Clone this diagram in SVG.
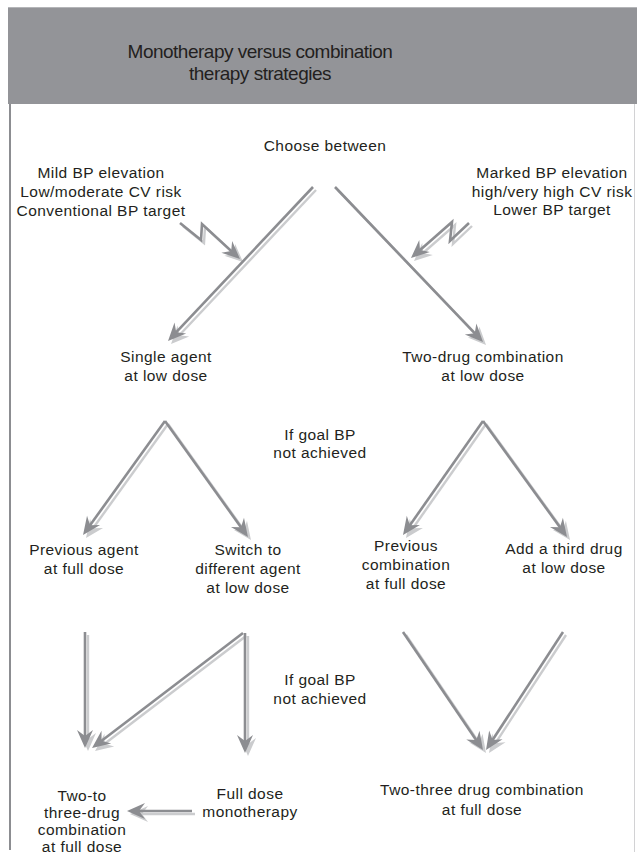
<svg xmlns="http://www.w3.org/2000/svg" width="637" height="858" viewBox="0 0 637 858">
<defs>
<style>
.t{font-family:"Liberation Sans",Arial,sans-serif;font-size:15.5px;fill:#231f20;text-anchor:middle;letter-spacing:0.45px}
.title{font-family:"Liberation Sans",Arial,sans-serif;font-size:19px;fill:#231f20;text-anchor:middle;letter-spacing:-0.5px}
.m{fill:none;stroke:#8c8d91;stroke-width:2.6;marker-end:url(#hd)}
.s{fill:none;stroke:#cbccce;stroke-width:2.4;marker-end:url(#hs)}
</style>
<marker id="hd" markerUnits="userSpaceOnUse" markerWidth="24" markerHeight="24" viewBox="-12 -12 24 24" refX="0" refY="0" orient="auto">
<path d="M8,0 L-10,-8 L-4,0 L-10,8 Z" fill="#8c8d91"/>
</marker>
<marker id="hs" markerUnits="userSpaceOnUse" markerWidth="24" markerHeight="24" viewBox="-12 -12 24 24" refX="0" refY="0" orient="auto">
<path d="M8,0 L-10,-8 L-4,0 L-10,8 Z" fill="#cbccce"/>
</marker>
</defs>
<rect width="637" height="858" fill="#ffffff"/>
<g id="frame">
<rect x="8" y="7" width="629" height="97" fill="#939498"/>
<line x1="8" y1="7.5" x2="637" y2="7.5" stroke="#b4b5b8" stroke-width="1"/>
<line x1="10" y1="104" x2="10" y2="850" stroke="#8c8d91" stroke-width="2"/>
<line x1="634.5" y1="104" x2="634.5" y2="852" stroke="#d2d2d4" stroke-width="1"/>
</g>
<g id="title">
<text class="title" x="260" y="58">Monotherapy versus combination</text>
<text class="title" x="260" y="80">therapy strategies</text>
</g>
<g id="connectors">
<g id="shadows" transform="translate(3,3)">
<path class="s" d="M313,187 L173.5,335.2"/>
<path class="s" d="M335,187 L477.5,336.2"/>
<path class="s" d="M180,223 L201,240 L202,224 L234.1,253.6"/>
<path class="s" d="M469,223 L450,241 L452,222 L417,252.7"/>
<path class="s" d="M165,421 L87.7,528.5"/>
<path class="s" d="M165,421 L243.3,530.5"/>
<path class="s" d="M483,421 L407.6,528.5"/>
<path class="s" d="M483,421 L562.3,530.5"/>
<path class="s" d="M85,632 L85,740"/>
<path class="s" d="M243,633 L98.4,743.2"/>
<path class="s" d="M245,633 L245,745"/>
<path class="s" d="M403,632 L478.5,743.4"/>
<path class="s" d="M563,632 L490.4,743.3"/>
<path class="s" d="M192,811 L135,811"/>
</g>
<g id="arrows">
<path class="m" d="M313,187 L173.5,335.2"/>
<path class="m" d="M335,187 L477.5,336.2"/>
<path class="m" d="M180,223 L201,240 L202,224 L234.1,253.6"/>
<path class="m" d="M469,223 L450,241 L452,222 L417,252.7"/>
<path class="m" d="M165,421 L87.7,528.5"/>
<path class="m" d="M165,421 L243.3,530.5"/>
<path class="m" d="M483,421 L407.6,528.5"/>
<path class="m" d="M483,421 L562.3,530.5"/>
<path class="m" d="M85,632 L85,740"/>
<path class="m" d="M243,633 L98.4,743.2"/>
<path class="m" d="M245,633 L245,745"/>
<path class="m" d="M403,632 L478.5,743.4"/>
<path class="m" d="M563,632 L490.4,743.3"/>
<path class="m" d="M192,811 L135,811"/>
</g>
</g>
<g id="choose"><text class="t" x="325" y="151">Choose between</text></g>
<g id="mild">
<text class="t" x="101" y="178">Mild BP elevation</text>
<text class="t" x="101" y="197">Low/moderate CV risk</text>
<text class="t" x="101" y="216">Conventional BP target</text>
</g>
<g id="marked">
<text class="t" x="552" y="178">Marked BP elevation</text>
<text class="t" x="552" y="197">high/very high CV risk</text>
<text class="t" x="552" y="215">Lower BP target</text>
</g>
<g id="single-agent">
<text class="t" x="166" y="362">Single agent</text>
<text class="t" x="166" y="381">at low dose</text>
</g>
<g id="two-drug">
<text class="t" x="483" y="362">Two-drug combination</text>
<text class="t" x="483" y="381">at low dose</text>
</g>
<g id="goal1">
<text class="t" x="320" y="440">If goal BP</text>
<text class="t" x="320" y="458">not achieved</text>
</g>
<g id="prev-agent">
<text class="t" x="84" y="555">Previous agent</text>
<text class="t" x="84" y="574">at full dose</text>
</g>
<g id="switch">
<text class="t" x="248" y="555">Switch to</text>
<text class="t" x="248" y="574">different agent</text>
<text class="t" x="248" y="593">at low dose</text>
</g>
<g id="prev-comb">
<text class="t" x="406" y="551">Previous</text>
<text class="t" x="406" y="570">combination</text>
<text class="t" x="406" y="589">at full dose</text>
</g>
<g id="third-drug">
<text class="t" x="564" y="554">Add a third drug</text>
<text class="t" x="564" y="573">at low dose</text>
</g>
<g id="goal2">
<text class="t" x="320" y="685">If goal BP</text>
<text class="t" x="320" y="704">not achieved</text>
</g>
<g id="two-three-left">
<text class="t" x="82" y="801">Two-to</text>
<text class="t" x="82" y="818">three-drug</text>
<text class="t" x="82" y="835">combination</text>
<text class="t" x="82" y="852">at full dose</text>
</g>
<g id="full-dose-mono">
<text class="t" x="250" y="799">Full dose</text>
<text class="t" x="250" y="817">monotherapy</text>
</g>
<g id="two-three-right">
<text class="t" x="482" y="795">Two-three drug combination</text>
<text class="t" x="482" y="815">at full dose</text>
</g>
</svg>
